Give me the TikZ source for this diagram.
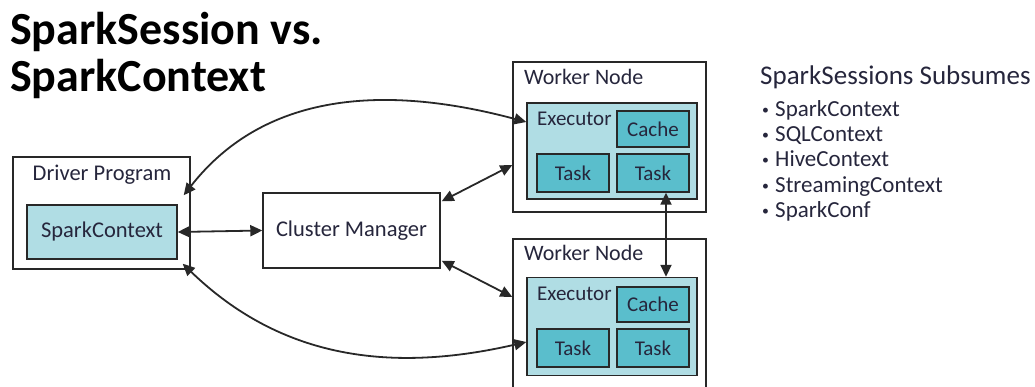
\documentclass[tikz,border=0pt]{standalone}
\usepackage{fontspec}
\usepackage{graphicx}
\setmainfont{Carlito}
\usetikzlibrary{arrows.meta,calc}
\definecolor{lightteal}{RGB}{176,221,228}
\definecolor{darkteal}{RGB}{90,190,204}
\definecolor{edgegray}{RGB}{40,40,40}
\definecolor{txt}{RGB}{38,38,60}
\newcommand{\smallbullet}{\makebox[13pt][l]{\raisebox{0.25ex}{\scalebox{0.6}{\textbullet}}}}
\tikzset{
  box/.style={draw=edgegray, line width=1.4pt, inner sep=0pt, anchor=center},
  plainbox/.style={box, fill=white},
  lightbox/.style={box, fill=lightteal},
  darkbox/.style={box, fill=darkteal, minimum width=72pt, text=txt, font=\fontsize{21}{24}\selectfont},
  lbl/.style={inner sep=0pt, text=txt, font=\fontsize{22}{25}\selectfont},
  boxtext/.style={text=txt, font=\fontsize{22.5}{26}\selectfont},
  conn/.style={draw=edgegray, line width=1.8pt, arrows={Triangle[length=12pt,width=11pt]-Triangle[length=12pt,width=11pt]}},
  titlefont/.style={inner sep=0pt, anchor=base west, font=\fontsize{46}{49}\bfseries\selectfont},
  listitem/.style={inner sep=0pt, anchor=base west, text=txt, font=\fontsize{23}{26}\selectfont}
}
\begin{document}
\begin{tikzpicture}[x=1pt,y=1pt]
\useasboundingbox (0,0) rectangle (1035,-387);
\clip (0,0) rectangle (1035,-387);
% title
\node[titlefont] (title1) at (10,-45) {SparkSession vs.};
\node[titlefont] (title2) at (10,-92) {SparkContext};
% driver
\node[plainbox, minimum width=177pt, minimum height=112pt] (driver) at (101.5,-213) {};
\node[lbl, font=\fontsize{22.5}{26}\selectfont] (driverlbl) at (102,-175) {Driver Program};
\node[lightbox, boxtext, minimum width=150pt, minimum height=54pt] (sc) at (102,-232) {SparkContext};
% cluster manager
\node[plainbox, boxtext, minimum width=177pt, minimum height=75pt] (cm) at (351.5,-230.5) {Cluster Manager};
% worker 1
\node[plainbox, minimum width=193pt, minimum height=150pt] (w1) at (609.5,-137) {};
\node[lbl, anchor=base west] (w1lbl) at (524,-85) {Worker Node};
\node[lightbox, minimum width=170pt, minimum height=96pt] (e1) at (612,-151) {};
\node[lbl, anchor=base west, font=\fontsize{21}{24}\selectfont] (e1lbl) at (537,-126) {Executor};
\node[darkbox, minimum height=36pt] (c1) at (653,-129) {Cache};
\node[darkbox, minimum height=38pt] (t1a) at (573,-173) {Task};
\node[darkbox, minimum height=38pt] (t1b) at (653,-173) {Task};
% worker 2
\node[plainbox, minimum width=193pt, minimum height=161pt] (w2) at (609.5,-319.5) {};
\node[lbl, anchor=base west] (w2lbl) at (524,-260) {Worker Node};
\node[lightbox, minimum width=170pt, minimum height=98pt] (e2) at (612,-326.5) {};
\node[lbl, anchor=base west, font=\fontsize{21}{24}\selectfont] (e2lbl) at (537,-300) {Executor};
\node[darkbox, minimum height=35pt] (c2) at (653,-304.5) {Cache};
\node[darkbox, minimum height=38pt] (t2a) at (573,-348) {Task};
\node[darkbox, minimum height=38pt] (t2b) at (653,-348) {Task};
% connectors
\draw[conn] (sc.east) -- (cm.west);
\draw[conn] ([shift={(1,-9)}]cm.north east) -- ([yshift=-28]w1.west);
\draw[conn] ([shift={(1,8)}]cm.south east) -- ([yshift=22.5]w2.west);
\coordinate (vx) at (666,0);
\draw[conn] (t1b.south -| vx) -- (e2.north -| vx);
\draw[conn] ([shift={(6,9)}]sc.north east) to[out=52,in=165] ([yshift=29]e1.west);
\draw[conn] ([shift={(5,-4)}]sc.south east) to[out=-44,in=193] ([yshift=-15.5]e2.west);
% right list
\node[inner sep=0pt, anchor=base west, text=txt, font=\fontsize{27}{30}\selectfont] (subs) at (760,-85) {SparkSessions Subsumes};
\node[listitem] (li1) at (762,-117) {\smallbullet SparkContext};
\node[listitem] (li2) at (762,-142) {\smallbullet SQLContext};
\node[listitem] (li3) at (762,-167) {\smallbullet HiveContext};
\node[listitem] (li4) at (762,-193) {\smallbullet StreamingContext};
\node[listitem] (li5) at (762,-218) {\smallbullet SparkConf};
\end{tikzpicture}
\end{document}
